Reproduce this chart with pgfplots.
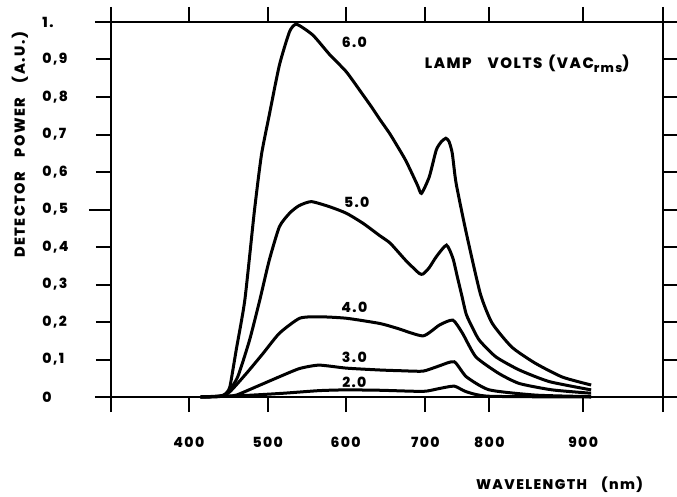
\documentclass[border=0pt]{standalone}
\usepackage{fontspec}
\setmainfont{Poppins}[LetterSpace=10, BoldFont={Poppins ExtraBold}]
\usepackage{pgfplots}
\pgfplotsset{compat=1.18}

% the printed wavelength scale is not evenly spaced: map nm to the drawn positions
\pgfplotsset{
  nmscale/.style={
    x coord trafo/.code={%
      {\pgfkeys{/pgf/fpu=true,/pgf/fpu/output format=fixed}%
       \pgfmathparse{##1<400 ? 111+(##1-300)*0.78 :
         (##1<500 ? 189+(##1-400)*0.79 :
         (##1<600 ? 268+(##1-500)*0.78 :
         (##1<700 ? 346+(##1-600)*0.80 :
         (##1<800 ? 426+(##1-700)*0.64 :
         (##1<900 ? 490+(##1-800)*0.94 : 584+(##1-900)*0.80)))))}%
       \xdef\nmresult{\pgfmathresult}}%
      \let\pgfmathresult\nmresult},
  },
}
\newcommand{\lbl}{\fontsize{14}{16}\selectfont\bfseries}

\begin{document}
\begin{tikzpicture}
\begin{axis}[
  nmscale,
  scale only axis, width=552pt, height=375pt,
  xmin=300, xmax=1000, ymin=0, ymax=1,
  separate axis lines,
  axis line style={line width=2.5pt},
  x axis line style={shorten <=-16pt, shorten >=-14pt},
  tick align=outside,
  major tick length=15pt,
  tick style={black, line width=2pt},
  xtick={300,400,500,600,700,800,900,1000},
  xticklabels={,400,500,600,700,800,900,},
  ytick={0,0.1,0.2,0.3,0.4,0.6,0.7,0.8,0.9,1},
  yticklabels={0,{0,1},{0,2},{0,3},{0,4},{0,6},{0,7},{0,8},{0,9},1.},
  extra y ticks={0.5},
  extra y tick labels={0{,}5},
  extra y tick style={major tick length=22pt, yticklabel style={xshift=7pt}},
  every tick label/.append style={font=\lbl},
  xticklabel style={yshift=-22pt},
  yticklabel style={text width=26pt, align=left, anchor=east, xshift=-24pt},
  xlabel={WAVELENGTH\quad (nm)},
  ylabel={DETECTOR\quad POWER\quad (A.U.)},
  every axis x label/.style={at={(axis description cs:0.8125,-0.235)}, anchor=center,
    font=\lbl},
  every axis y label/.style={at={(axis description cs:-0.165,0.672)}, rotate=90, anchor=center,
    font=\fontsize{14.5}{16}\selectfont\bfseries},
  every axis plot post/.append style={black, line width=3pt},
  clip=false,
]
% 6.0 V
\addplot+[no markers, smooth, tension=0.35] coordinates {(415,0) (440,0.003) (446,0.008)
  (452,0.027) (460,0.125) (471,0.259) (483,0.494) (492,0.645) (502,0.752) (515,0.885)
  (528,0.974) (537,0.994) (558,0.965) (580,0.912) (601,0.867) (622,0.805) (632,0.775)
  (643,0.74) (656,0.70) (675,0.632) (690,0.565) (695,0.543) (706,0.587) (717,0.659)
  (725,0.681) (732,0.69) (737,0.681) (742,0.65) (748,0.57) (764,0.437) (786,0.275)
  (803,0.197) (824,0.133) (849,0.09) (878,0.053) (910,0.032)};
% 5.0 V
\addplot+[no markers, smooth, tension=0.35] coordinates {(415,0) (440,0.002) (449,0.01)
  (462,0.054) (477,0.152) (490,0.259) (502,0.365) (515,0.454) (528,0.49) (540,0.51)
  (556,0.521) (580,0.507) (601,0.49) (622,0.463) (643,0.43) (656,0.41) (675,0.365)
  (692,0.33) (697,0.328) (706,0.345) (717,0.374) (733,0.405) (743,0.37) (750,0.32)
  (757,0.27) (764,0.22) (775,0.18) (785,0.15) (807,0.107) (832,0.072) (864,0.041)
  (910,0.019)};
% 4.0 V
\addplot+[no markers, smooth, tension=0.35] coordinates {(415,0) (440,0.002) (452,0.014)
  (473,0.063) (494,0.116) (515,0.17) (541,0.21) (566,0.214) (601,0.21) (643,0.196)
  (665,0.183) (697,0.163) (722,0.192) (743,0.205) (758,0.17) (779,0.107) (810,0.063)
  (832,0.036) (867,0.019) (910,0.01)};
% 3.0 V
\addplot+[no markers, smooth, tension=0.35] coordinates {(415,0) (445,0.002) (460,0.005)
  (485,0.027) (515,0.054) (541,0.076) (566,0.085) (601,0.077) (643,0.072) (670,0.07)
  (697,0.069) (720,0.082) (745,0.094) (764,0.054) (800,0.019) (850,0.005) (910,0.001)};
% 2.0 V
\addplot+[no markers, smooth, tension=0.35] coordinates {(415,0) (450,0.002) (480,0.005)
  (520,0.01) (566,0.017) (600,0.019) (643,0.018) (697,0.015) (720,0.022) (745,0.029)
  (764,0.014) (800,0.002) (910,0)};

\node[font=\lbl] at (axis cs:611,0.947) {6.0};
\node[font=\lbl] at (axis cs:614,0.52) {5.0};
\node[font=\lbl] at (axis cs:611,0.24) {4.0};
\node[font=\lbl] at (axis cs:611,0.107) {3.0};
\node[font=\lbl] at (axis cs:611,0.04) {2.0};
\node[font=\fontsize{15}{17}\selectfont\bfseries] at (axis description cs:0.754,0.888)
  {LAMP\hspace{16pt}VOLTS\hspace{6pt}(VAC\raisebox{-0.5ex}{\fontsize{12.5}{13}\selectfont rms})};
\end{axis}
\pgfresetboundingbox
\useasboundingbox (-111pt,-99pt) rectangle (566pt,397pt);
\end{tikzpicture}
\end{document}
